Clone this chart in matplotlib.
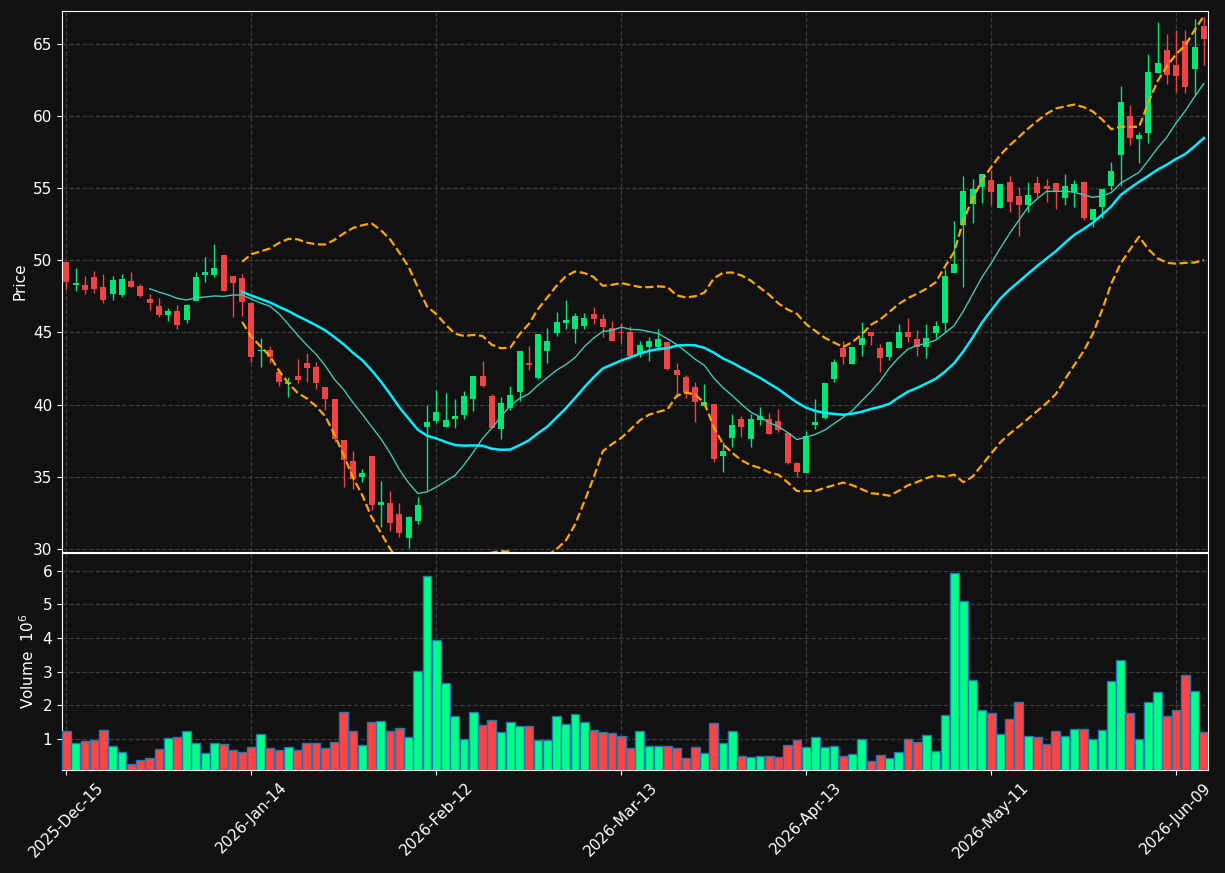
import numpy as np
import pandas as pd
import matplotlib
matplotlib.use("Agg")
import matplotlib.pyplot as plt

# Daily OHLC (one entry per trading day)
opens = [49.86, 48.29, 48.27, 48.82, 48.13, 47.67, 47.60, 48.59, 48.20, 47.30,
         46.82, 46.20, 46.47, 45.85, 47.19, 48.99, 48.96, 50.35, 48.89, 48.76,
         47.05, 43.68, 43.78, 42.25, 41.45, 41.98, 42.88, 42.62, 41.22, 40.39,
         37.55, 36.12, 35.02, 36.45, 33.08, 33.19, 32.43, 30.80, 31.97, 38.45,
         38.89, 38.47, 38.98, 39.30, 40.41, 41.96, 40.60, 38.34, 39.79, 40.87,
         42.88, 41.84, 43.73, 44.97, 45.67, 45.25, 45.46, 46.27, 45.92, 45.30,
         45.02, 45.02, 43.50, 44.01, 44.01, 44.33, 42.39, 41.91, 41.22, 39.90,
         40.04, 36.47, 37.71, 39.00, 37.64, 38.93, 39.00, 38.87, 38.01, 35.94,
         35.29, 38.61, 39.10, 41.75, 43.91, 42.83, 44.15, 45.02, 43.91, 43.31,
         43.94, 45.02, 44.54, 44.01, 44.97, 45.67, 49.12, 52.47, 53.92, 55.07,
         55.53, 53.62, 55.39, 54.43, 53.85, 55.32, 55.12, 55.33, 54.31, 54.73,
         55.44, 52.81, 53.69, 55.14, 57.26, 60.00, 58.39, 58.81, 62.95, 64.52,
         63.49, 65.14, 63.23, 66.18]
highs = [49.95, 49.49, 48.94, 49.22, 49.01, 48.94, 49.01, 49.15, 48.32, 47.63,
         47.35, 46.66, 46.87, 46.96, 49.15, 50.21, 51.15, 50.35, 48.89, 49.03,
         47.10, 44.58, 44.08, 42.46, 41.93, 43.18, 43.61, 42.97, 41.22, 40.39,
         37.55, 36.79, 35.55, 36.45, 34.72, 34.03, 33.17, 32.30, 33.59, 39.95,
         41.01, 40.83, 40.36, 40.92, 41.96, 42.99, 40.71, 40.50, 41.26, 43.71,
         44.05, 44.88, 45.34, 46.43, 47.23, 46.31, 46.31, 46.73, 46.27, 45.76,
         45.62, 45.44, 44.40, 44.65, 45.21, 44.33, 42.85, 42.05, 41.56, 41.40,
         40.04, 37.44, 39.33, 39.21, 39.33, 39.81, 39.40, 39.67, 38.01, 36.05,
         38.20, 40.36, 41.52, 43.13, 44.42, 43.98, 45.69, 45.02, 44.17, 44.38,
         45.60, 45.97, 45.14, 45.57, 45.76, 49.42, 52.70, 55.81, 55.65, 55.99,
         56.22, 55.30, 55.83, 55.07, 55.42, 55.81, 55.65, 55.33, 55.99, 55.58,
         55.49, 53.57, 54.96, 56.80, 62.08, 60.74, 58.88, 64.29, 66.48, 65.68,
         65.95, 65.95, 66.71, 66.83]
lows = [47.99, 47.88, 47.63, 47.72, 47.07, 47.26, 47.46, 48.11, 47.46, 46.57,
        46.04, 45.76, 45.25, 45.67, 47.19, 48.46, 48.85, 47.88, 46.04, 46.15,
        42.97, 42.62, 42.85, 41.31, 40.55, 41.52, 41.54, 41.10, 39.63, 37.44,
        34.32, 34.14, 34.62, 32.71, 31.56, 31.26, 30.87, 30.06, 31.74, 34.09,
        38.75, 38.45, 38.41, 38.98, 39.58, 41.22, 38.38, 37.64, 39.63, 40.25,
        42.42, 41.79, 42.85, 44.74, 45.25, 44.24, 45.21, 45.57, 44.65, 44.42,
        44.28, 43.38, 43.32, 42.99, 43.89, 42.39, 40.55, 40.43, 38.82, 39.90,
        36.05, 35.36, 37.04, 37.78, 37.04, 38.59, 37.94, 38.08, 35.87, 35.02,
        35.29, 38.29, 38.98, 41.59, 42.78, 42.83, 43.38, 44.15, 42.28, 43.08,
        43.94, 44.35, 43.34, 43.20, 44.58, 45.04, 49.12, 48.11, 52.54, 53.99,
        53.85, 53.62, 53.34, 51.68, 53.34, 54.38, 54.04, 53.57, 53.85, 53.69,
        52.81, 52.30, 52.95, 54.84, 55.14, 58.00, 56.75, 58.14, 62.95, 62.17,
        61.64, 61.57, 61.53, 63.49]
closes = [48.50, 48.43, 47.95, 47.99, 47.26, 48.66, 48.73, 48.16, 47.53, 47.05,
          46.20, 46.47, 45.50, 46.89, 48.82, 49.17, 49.45, 47.88, 48.43, 47.12,
          43.31, 43.78, 43.31, 41.59, 41.56, 41.70, 42.55, 41.52, 40.41, 37.64,
          36.19, 34.88, 35.29, 33.06, 33.26, 31.79, 31.14, 32.20, 33.03, 38.80,
          39.47, 38.91, 39.19, 40.57, 41.96, 41.29, 38.38, 40.09, 40.66, 43.71,
          42.76, 44.88, 44.40, 45.69, 45.85, 46.13, 45.97, 45.94, 45.37, 44.42,
          44.98, 43.38, 44.12, 44.40, 44.51, 42.46, 42.05, 40.89, 40.20, 40.16,
          36.24, 36.77, 38.59, 38.47, 39.00, 39.21, 37.99, 38.27, 35.98, 35.36,
          37.80, 38.80, 41.52, 42.95, 43.29, 43.98, 44.61, 44.77, 43.25, 44.33,
          45.02, 44.70, 43.96, 44.58, 45.44, 48.89, 49.77, 54.82, 54.96, 55.99,
          54.73, 55.26, 54.03, 53.83, 54.50, 54.66, 54.91, 54.73, 55.12, 55.26,
          52.93, 53.57, 54.96, 56.20, 60.93, 58.46, 58.65, 63.00, 63.65, 62.79,
          62.75, 61.99, 64.73, 65.31]

# Volume in millions
volumes = [1.23, 0.87, 0.93, 0.96, 1.26, 0.78, 0.60, 0.25, 0.36, 0.42,
           0.69, 1.02, 1.05, 1.23, 0.87, 0.57, 0.87, 0.84, 0.66, 0.60,
           0.75, 1.14, 0.72, 0.66, 0.75, 0.66, 0.87, 0.87, 0.72, 0.90,
           1.79, 1.23, 0.81, 1.49, 1.52, 1.23, 1.32, 1.05, 3.01, 5.84,
           3.93, 2.66, 1.67, 0.99, 1.79, 1.41, 1.56, 1.20, 1.49, 1.38,
           1.38, 0.96, 0.96, 1.67, 1.44, 1.73, 1.49, 1.26, 1.20, 1.17,
           1.08, 0.72, 1.23, 0.78, 0.78, 0.78, 0.72, 0.42, 0.75, 0.57,
           1.46, 0.87, 1.23, 0.48, 0.45, 0.48, 0.48, 0.45, 0.81, 0.96,
           0.75, 1.05, 0.75, 0.78, 0.48, 0.54, 0.99, 0.33, 0.51, 0.42,
           0.60, 0.99, 0.90, 1.11, 0.63, 1.70, 5.93, 5.10, 2.75, 1.85,
           1.76, 1.14, 1.59, 2.09, 1.08, 1.05, 0.84, 1.23, 1.08, 1.29,
           1.29, 0.99, 1.26, 2.71, 3.34, 1.76, 0.99, 2.09, 2.39, 1.67,
           1.85, 2.89, 2.43, 1.20]

# Exchange holidays inside the date range
holidays = ["2025-12-25", "2026-01-01", "2026-01-19", "2026-02-16",
            "2026-04-03", "2026-05-25"]
start_date = "2025-12-15"

BG = "#111111"
UP, DOWN = "#00e676", "#ef4444"
VOL_UP, VOL_DOWN = "#00ff88", "#ff4444"


def build_frame():
    dates = pd.bdate_range(start=start_date, periods=len(closes), freq="C",
                           holidays=holidays)
    df = pd.DataFrame({"Open": opens, "High": highs, "Low": lows,
                       "Close": closes, "Volume": volumes}, index=dates)
    df["ma10"] = df["Close"].rolling(10).mean()
    df["ma20"] = df["Close"].rolling(20).mean()
    std20 = df["Close"].rolling(20).std()
    df["bb_up"] = df["ma20"] + 2 * std20
    df["bb_dn"] = df["ma20"] - 2 * std20
    return df


def style_axis(ax):
    ax.set_facecolor(BG)
    ax.grid(True, linestyle="--", color="#3a3a3a", linewidth=0.9)
    ax.set_axisbelow(True)
    for s in ax.spines.values():
        s.set_color("white")
    ax.tick_params(colors="white", labelsize=11)


def plot_chart(df):
    fig = plt.figure(figsize=(12.25, 8.73), dpi=100, facecolor=BG)
    ax = fig.add_axes([0.0506, 0.3677, 0.9355, 0.6197])
    axv = fig.add_axes([0.0506, 0.1180, 0.9355, 0.2486], sharex=ax)
    style_axis(ax)
    style_axis(axv)

    x = np.arange(len(df))
    up = (df["Close"] >= df["Open"]).values
    colors = np.where(up, UP, DOWN)

    # candles: wicks then bodies
    ax.vlines(x, df["Low"], df["High"], colors=colors, linewidth=1.0, zorder=3)
    body_lo = np.minimum(df["Open"], df["Close"])
    body_h = np.maximum(np.abs(df["Close"] - df["Open"]), 0.06)
    ax.bar(x, body_h, bottom=body_lo, width=0.65, color=colors, zorder=4)

    # moving averages and bollinger bands
    ax.plot(x, df["ma10"], color="#3fc8b8", linewidth=1.0, zorder=5)
    ax.plot(x, df["ma20"], color="#00eeff", linewidth=1.8, zorder=5)
    ax.plot(x, df["bb_up"], color="#ffa500", linestyle="--", linewidth=1.6, zorder=5)
    ax.plot(x, df["bb_dn"], color="#ffa500", linestyle="--", linewidth=1.6, zorder=5)

    ax.set_ylim(29.8, 67.25)
    ax.set_yticks(range(30, 66, 5))
    ax.set_ylabel("Price", color="white", fontsize=11)
    plt.setp(ax.get_xticklabels(), visible=False)
    ax.tick_params(axis="x", length=0)

    # volume panel
    vcolors = np.where(up, VOL_UP, VOL_DOWN)
    axv.bar(x, df["Volume"], width=0.95, color=vcolors, edgecolor="#1f77b4",
            linewidth=1.0, zorder=3)
    axv.set_ylim(0.3 * min(volumes), 1.1 * max(volumes))
    axv.set_yticks(range(1, 7))
    axv.set_ylabel("Volume  $10^6$", color="white", fontsize=11)

    ticks = list(range(0, len(df), 20))
    axv.set_xticks(ticks)
    axv.set_xticklabels([df.index[t].strftime("%Y-%b-%d") for t in ticks],
                        rotation=45, ha="center")
    axv.set_xlim(-0.48, len(df) - 0.55)

    fig.savefig("out.png", dpi=100, facecolor=BG)


if __name__ == "__main__":
    plot_chart(build_frame())
